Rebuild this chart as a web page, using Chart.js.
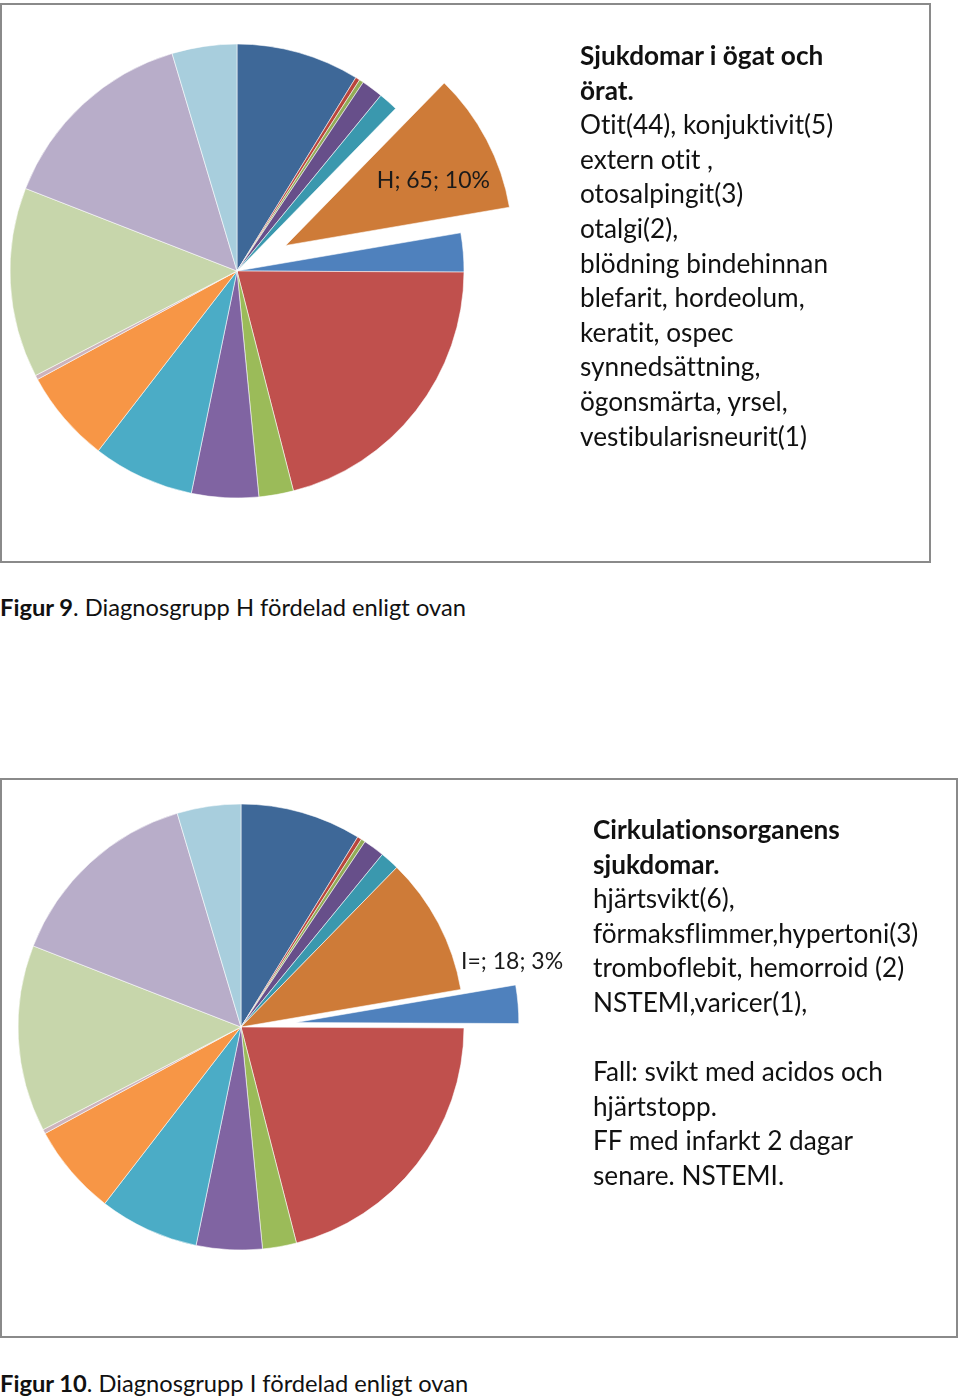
<!DOCTYPE html>
<html>
<head>
<meta charset="utf-8">
<script src="https://cdn.jsdelivr.net/npm/chart.js@4"></script>
<style>
  html, body { margin: 0; padding: 0; background: #fff; }
  body { width: 960px; height: 1400px; position: relative; overflow: hidden; font-family: Lato, "Open Sans", sans-serif; color: #000; }
  .box { position: absolute; border: 2px solid #8a8a8a; box-sizing: border-box; background: #fff; }
  .txt { position: absolute; font-size: 26.2px; line-height: 34.6px; white-space: nowrap; color: #111; font-variant-ligatures: none; }
  .txt b { font-weight: 700; }
  .cap { position: absolute; left: 0; font-size: 23.7px; white-space: nowrap; color: #111; }
  canvas { position: absolute; }
</style>
</head>
<body>
<div class="box" style="left:0px;top:3px;width:931px;height:560px;"></div>
<div class="box" style="left:0px;top:778px;width:958px;height:560px;"></div>
<div id="c1wrap" style="position:absolute;left:0;top:0;width:700px;height:560px;"><canvas id="c1"></canvas></div>
<div id="c2wrap" style="position:absolute;left:0;top:780px;width:700px;height:540px;"><canvas id="c2"></canvas></div>

<div class="txt" style="left:580px;top:38px;">
<b>Sjukdomar i ögat och</b><br>
<b>örat.</b><br>
Otit(44), konjuktivit(5)<br>
extern otit ,<br>
otosalpingit(3)<br>
otalgi(2),<br>
blödning bindehinnan<br>
blefarit, hordeolum,<br>
keratit, ospec<br>
synnedsättning,<br>
ögonsmärta, yrsel,<br>
vestibularisneurit(1)
</div>

<div class="txt" style="left:593px;top:812px;">
<b>Cirkulationsorganens</b><br>
<b>sjukdomar.</b><br>
hjärtsvikt(6),<br>
förmaksflimmer,hypertoni(3)<br>
tromboflebit, hemorroid (2)<br>
NSTEMI,varicer(1),<br>
<br>
Fall: svikt med acidos och<br>
hjärtstopp.<br>
FF med infarkt 2 dagar<br>
senare. NSTEMI.
</div>

<div class="cap" style="top:593px;"><b>Figur 9</b>. Diagnosgrupp H fördelad enligt ovan</div>
<div class="cap" style="top:1369px;"><b>Figur 10</b>. Diagnosgrupp I fördelad enligt ovan</div>

<script>
// ---- data ----
const categories = ["A-B", "C", "D", "E", "G", "H", "I=", "J", "K", "L", "M", "N", "O", "R", "S-T", "Z"];
const counts     = [57, 2, 2, 10, 9, 65, 18, 136, 16, 31, 47, 43, 2, 88, 94, 30];
const sliceColors = ["#3E6898", "#B9453C", "#92AC57", "#674F8A", "#3A98AE", "#CE7B38",
                     "#4F81BD", "#C0504D", "#9BBB59", "#8064A2", "#4BACC6", "#F79646",
                     "#CDB3BC", "#C7D6AB", "#B8ADC9", "#A8CEDD"];
const explodeH = 5;   // index of H
const explodeI = 6;   // index of I=

// keep exploded slices at full radius / full angle, and draw the data label
const sliceLabelPlugin = {
  id: 'sliceLabel',
  afterDatasetUpdate(chart, args) {
    const cfg = chart.options.plugins.sliceLabel;
    const arc = args.meta.data[cfg.index];
    const R = arc.outerRadius;
    const off = (arc.options.offset || 0) / 4;
    const circ = arc.circumference;
    const fix = 1 - Math.sin(Math.min(Math.PI, circ));
    const ro = off * fix;
    arc.outerRadius = R - ro;
    const widen = ro / (2 * Math.PI * R);
    arc.startAngle -= widen;
    arc.endAngle += widen;
  },
  afterDatasetsDraw(chart) {
    const cfg = chart.options.plugins.sliceLabel;
    const meta = chart.getDatasetMeta(0);
    const arc = meta.data[cfg.index];
    const off = (arc.options.offset || 0) / 4;
    const mid = (arc.startAngle + arc.endAngle) / 2;
    const r0 = meta.controller.outerRadius;
    const cx = arc.x + Math.cos(mid) * off;
    const cy = arc.y + Math.sin(mid) * off;
    const total = counts.reduce((a, b) => a + b, 0);
    const val = counts[cfg.index];
    const txt = categories[cfg.index] + "; " + val + "; " + Math.round(val / total * 100) + "%";
    const ctx = chart.ctx;
    ctx.save();
    ctx.font = "23px Lato, 'Open Sans', sans-serif";
    ctx.fillStyle = "#1a1a1a";
    ctx.textBaseline = "middle";
    ctx.textAlign = "center";
    const k = cfg.mode === 'inside' ? 0.7 : 1.0;
    const x = cx + Math.cos(mid) * r0 * k + cfg.dx;
    const y = cy + Math.sin(mid) * r0 * k + cfg.dy;
    ctx.fillText(txt, x, y);
    ctx.restore();
  }
};

function makePie(id, explodeIdx, radius, pad, labelCfg) {
  return new Chart(document.getElementById(id), {
    type: 'pie',
    data: {
      labels: categories,
      datasets: [{
        data: counts,
        backgroundColor: sliceColors,
        borderColor: 'rgba(255,255,255,0.55)',
        borderWidth: 1,
        offset: counts.map((v, i) => i === explodeIdx ? 220 : 0),
        hoverOffset: 0,
        clip: false
      }]
    },
    options: {
      responsive: true,
      maintainAspectRatio: false,
      animation: false,
      radius: radius,
      rotation: 0,
      layout: { padding: pad },
      events: [],
      plugins: {
        legend: { display: false },
        tooltip: { enabled: false },
        title: { display: false },
        sliceLabel: labelCfg
      }
    },
    plugins: [sliceLabelPlugin]
  });
}

// pie 1: center (237,271), r 227 ; canvas 700x560 at (0,0)
makePie('c1', explodeH, 227, { left: 0, top: 0, right: 700 - 474, bottom: 560 - 542 },
        { index: explodeH, mode: 'inside', dx: 7, dy: 9 });
// pie 2: center (241,1027), r 223 ; canvas 700x540 at (0,780)
makePie('c2', explodeI, 223, { left: 0, top: 0, right: 700 - 482, bottom: 540 - 494 },
        { index: explodeI, mode: 'outside', dx: -6, dy: -43 });
</script>
</body>
</html>
